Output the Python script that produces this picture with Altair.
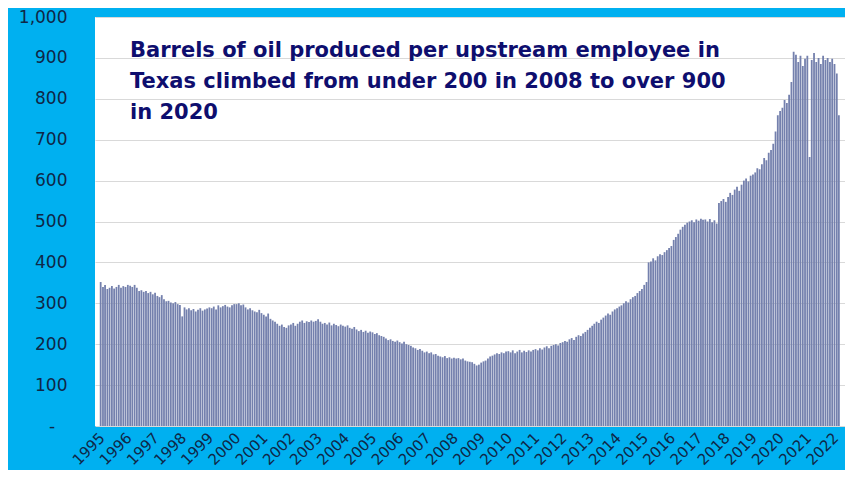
import altair as alt
import pandas as pd

# Monthly barrels of oil produced per upstream employee, Texas
v1995 = [352, 340, 345, 335, 338, 342, 336, 340, 345, 338, 342, 340]
v1996 = [345, 343, 340, 345, 338, 330, 332, 328, 330, 325, 328, 322]
v1997 = [326, 318, 315, 320, 310, 305, 306, 302, 300, 303, 298, 296]
v1998 = [268, 290, 285, 288, 283, 286, 280, 284, 288, 282, 285, 287]
v1999 = [290, 288, 292, 285, 295, 290, 293, 296, 292, 290, 295, 298]
v2000 = [298, 300, 295, 297, 290, 285, 288, 283, 280, 278, 284, 276]
v2001 = [272, 268, 275, 262, 258, 255, 250, 245, 248, 242, 240, 246]
v2002 = [248, 252, 245, 250, 255, 258, 252, 256, 254, 258, 255, 257]
v2003 = [261, 255, 250, 252, 248, 253, 246, 250, 247, 244, 248, 245]
v2004 = [243, 246, 240, 238, 242, 236, 232, 235, 230, 233, 228, 231]
v2005 = [229, 225, 227, 222, 220, 218, 214, 210, 212, 208, 206, 209]
v2006 = [205, 202, 206, 200, 198, 196, 192, 190, 186, 188, 184, 180]
v2007 = [182, 178, 180, 175, 176, 172, 170, 168, 171, 166, 168, 165]
v2008 = [167, 165, 166, 163, 165, 160, 158, 157, 156, 152, 148, 150]
v2009 = [155, 158, 160, 165, 170, 172, 175, 178, 176, 180, 178, 182]
v2010 = [183, 180, 185, 178, 182, 186, 180, 184, 181, 185, 182, 186]
v2011 = [188, 185, 190, 187, 192, 195, 190, 196, 198, 200, 197, 203]
v2012 = [205, 208, 206, 212, 215, 210, 218, 222, 220, 226, 230, 235]
v2013 = [240, 245, 250, 255, 252, 260, 265, 270, 275, 272, 280, 285]
v2014 = [288, 292, 295, 300, 305, 302, 310, 315, 318, 325, 330, 335]
v2015 = [345, 352, 400, 402, 410, 405, 415, 420, 418, 425, 430, 435]
v2016 = [440, 455, 462, 470, 480, 487, 492, 497, 500, 503, 498, 505]
v2017 = [502, 507, 504, 505, 500, 506, 498, 503, 495, 545, 550, 555]
v2018 = [548, 560, 570, 565, 578, 585, 575, 590, 600, 605, 598, 612]
v2019 = [615, 620, 630, 628, 640, 655, 650, 668, 675, 690, 720, 760]
v2020 = [770, 778, 797, 790, 810, 841, 915, 908, 890, 905, 880, 898]
v2021 = [905, 658, 895, 912, 890, 900, 885, 905, 895, 900, 890, 898]
v2022 = [885, 862, 760]

years = list(range(1995, 2023))
title_lines = [
    "Barrels of oil produced per upstream employee in",
    "Texas climbed from under 200 in 2008 to over 900",
    "in 2020",
]

values = (v1995 + v1996 + v1997 + v1998 + v1999 + v2000 + v2001 + v2002 + v2003
          + v2004 + v2005 + v2006 + v2007 + v2008 + v2009 + v2010 + v2011 + v2012
          + v2013 + v2014 + v2015 + v2016 + v2017 + v2018 + v2019 + v2020 + v2021
          + v2022)
dates = pd.date_range("1995-01-01", periods=len(values), freq="MS")
df = pd.DataFrame({"date": dates, "value": values})

NAVY = "#0F2747"

bars = alt.Chart(df).mark_bar(width=1.8, color="#7480AD", clip=True).encode(
    x=alt.X(
        "date:T",
        scale=alt.Scale(domain=[alt.DateTime(year=1994, month=12, date=23),
                                alt.DateTime(year=2022, month=3, date=16)]),
        axis=alt.Axis(
            title=None,
            values=[alt.DateTime(year=y, month=1, date=1) for y in years],
            format="%Y",
            labelAngle=315,
            labelAlign="right",
            labelBaseline="top",
            labelPadding=4,
            labelOffset=-4,
            labelFontSize=15,
            labelColor=NAVY,
            labelFont="DejaVu Sans",
            ticks=False,
            domain=False,
            grid=False,
            labelOverlap=False,
        ),
    ),
    y=alt.Y(
        "value:Q",
        scale=alt.Scale(domain=[0, 1000], nice=False),
        axis=alt.Axis(
            title=None,
            values=list(range(0, 1001, 100)),
            labelExpr="datum.value == 0 ? '-\u2800' : format(datum.value, ',')",
            labelFontSize=17,
            labelColor=NAVY,
            labelFont="DejaVu Sans",
            labelPadding=28,
            ticks=False,
            domain=False,
            gridColor="#D9D9D9",
            gridWidth=1,
        ),
    ),
)

title = alt.Chart(pd.DataFrame({"t": ["\n".join(title_lines)]})).mark_text(
    align="left",
    baseline="top",
    lineBreak="\n",
    lineHeight=31,
    font="DejaVu Sans",
    fontWeight="bold",
    fontSize=21,
    color="#0E0E6E",
).encode(
    text="t:N",
    x=alt.value(35),
    y=alt.value(23),
)

chart = alt.layer(bars, title).properties(
    width=750,
    height=409,
    autosize=alt.AutoSizeParams(type="none"),
    padding={"left": 87, "top": 9, "right": 0, "bottom": 44},
    background="#00B0F0",
).configure_view(
    fill="white",
    stroke=None,
)

chart.save("out.html", embed_options={"renderer": "svg", "actions": False})
